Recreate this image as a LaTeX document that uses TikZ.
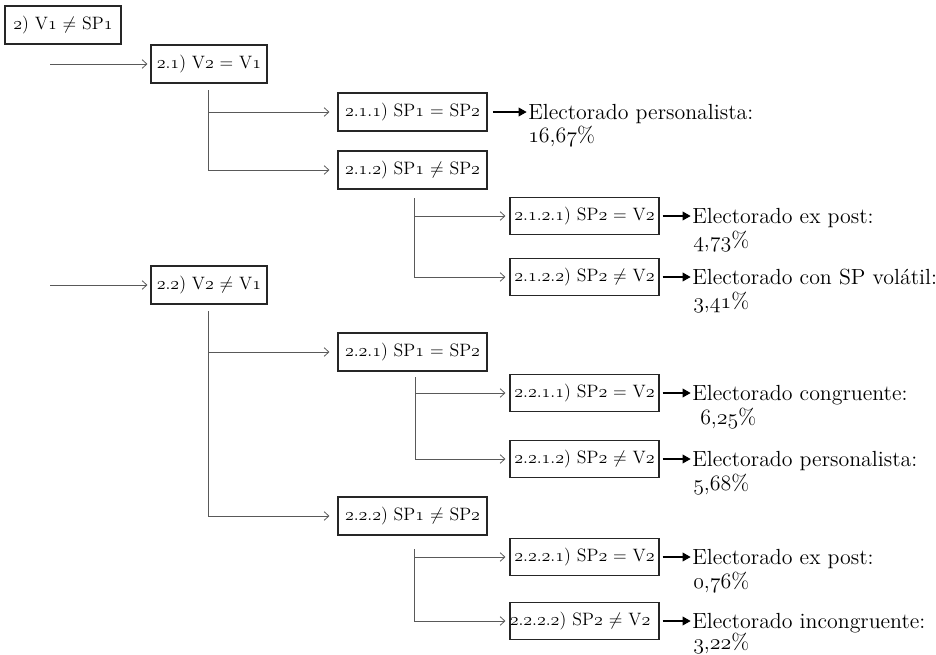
\documentclass[tikz,border=0pt]{standalone}
\usepackage{graphicx}
\usetikzlibrary{arrows.meta}
\newcommand{\osn}[1]{\ensuremath{\mathnormal{#1}}}
\newcommand{\oT}[1]{\scalebox{1.14}{#1}}
\newcommand{\bT}[1]{\scalebox{1.12}{#1}}
\begin{document}
\begin{tikzpicture}[x=0.75pt,y=-0.75pt,
  box/.style={draw=black!85, line width=0.9pt, minimum height=28.5pt, inner sep=0pt,
    font=\fontsize{12}{14}\selectfont},
  box2/.style={box, minimum width=87pt},
  box3/.style={box, minimum width=111.75pt},
  box4/.style={box, minimum width=111.75pt, minimum height=27.75pt},
  link/.style={draw=black!65, line width=0.6pt},
  conn/.style={link, -{Straight Barb[length=3.5pt,width=6.5pt]}},
  res/.style={line width=1pt, -{Triangle[length=6pt,width=6.5pt]}, shorten >=1pt},
  outtext/.style={anchor=base west, inner sep=0pt, font=\fontsize{14.4}{17}\selectfont}]
\useasboundingbox (0,0) rectangle (936,654);

% level 1 and 2
\node[box2] (A) at (63,25) {\bT{\osn{2}) V\osn{1} $\neq$ SP\osn{1}}};
\coordinate (inB1) at (50,64);
\node[box2] (B1) at (209,64) {\bT{\osn{2.1}) V\osn{2} $=$ V\osn{1}}};
\coordinate (inB2) at (50,285);
\node[box2] (B2) at (209,285) {\bT{\osn{2.2}) V\osn{2} $\neq$ V\osn{1}}};
\draw[conn, shorten >=2.25pt] (inB1) -- (B1.west);
\draw[conn, shorten >=2.25pt] (inB2) -- (B2.west);

% level 3
\node[box3] (C11) at (412.5,112) {\bT{\osn{2.1.1}) SP\osn{1} $=$ SP\osn{2}}};
\node[box3] (C12) at (412.5,170) {\bT{\osn{2.1.2}) SP\osn{1} $\neq$ SP\osn{2}}};
\node[box3] (C21) at (412.5,352) {\bT{\osn{2.2.1}) SP\osn{1} $=$ SP\osn{2}}};
\node[box3] (C22) at (412.5,516) {\bT{\osn{2.2.2}) SP\osn{1} $\neq$ SP\osn{2}}};

\coordinate (t1) at (208,90);
\draw[conn, shorten >=6pt] (t1) |- (C12.west);
\draw[conn, shorten >=6pt] (t1 |- C11.west) -- (C11.west);
\coordinate (t2) at (208,311);
\draw[conn, shorten >=6pt] (t2) |- (C22.west);
\draw[conn, shorten >=6pt] (t2 |- C21.west) -- (C21.west);

% level 4
\node[box4] (D121) at (584.5,216) {\bT{\osn{2.1.2.1}) SP\osn{2} $=$ V\osn{2}}};
\node[box4] (D122) at (584.5,277) {\bT{\osn{2.1.2.2}) SP\osn{2} $\neq$ V\osn{2}}};
\node[box4] (D211) at (584.5,393) {\bT{\osn{2.2.1.1}) SP\osn{2} $=$ V\osn{2}}};
\node[box4] (D212) at (584.5,459) {\bT{\osn{2.2.1.2}) SP\osn{2} $\neq$ V\osn{2}}};
\node[box4] (D221) at (584.5,557) {\bT{\osn{2.2.2.1}) SP\osn{2} $=$ V\osn{2}}};
\node[box4, text width=108pt, align=left, inner xsep=1pt] (D222) at (584.5,621) {\hspace*{-2pt}\bT{\osn{2.2.2.2}) SP\osn{2} $\neq$ V\osn{2}}};

\coordinate (t3) at (414,198);
\draw[conn, shorten >=3pt] (t3) |- (D122.west);
\draw[conn, shorten >=3pt] (t3 |- D121.west) -- (D121.west);
\coordinate (t4) at (415,377);
\draw[conn, shorten >=3pt] (t4) |- (D212.west);
\draw[conn, shorten >=3pt] (t4 |- D211.west) -- (D211.west);
\coordinate (t5) at (414,549);
\draw[conn, shorten >=3pt] (t5) |- (D222.west);
\draw[conn, shorten >=3pt] (t5 |- D221.west) -- (D221.west);

% outcomes
\node[outtext] (o11) at (528,119) {\oT{Electorado personalista:}};
\node[outtext] (p11) at (528,142) {\oT{\osn{16},\osn{67}\%}};
\draw[res, shorten <=4pt] (C11.east) -- (C11.east -| o11.west);

\node[outtext] (o121) at (692,223) {\oT{Electorado ex post:}};
\node[outtext] (p121) at (693,247) {\oT{\osn{4},\osn{73}\%}};
\draw[res, shorten <=2.25pt] (D121.east) -- (D121.east -| o121.west);

\node[outtext] (o122) at (692,284) {\oT{Electorado con SP volátil:}};
\node[outtext] (p122) at (693,308) {\oT{\osn{3},\osn{41}\%}};
\draw[res, shorten <=2.25pt] (D122.east) -- (D122.east -| o122.west);

\node[outtext] (o211) at (692,400) {\oT{Electorado congruente:}};
\node[outtext] (p211) at (700,424) {\oT{\osn{6},\osn{25}\%}};
\draw[res, shorten <=2.25pt] (D211.east) -- (D211.east -| o211.west);

\node[outtext] (o212) at (692,466) {\oT{Electorado personalista:}};
\node[outtext] (p212) at (693,490) {\oT{\osn{5},\osn{68}\%}};
\draw[res, shorten <=2.25pt] (D212.east) -- (D212.east -| o212.west);

\node[outtext] (o221) at (692,564) {\oT{Electorado ex post:}};
\node[outtext] (p221) at (693,588) {\oT{\osn{0},\osn{76}\%}};
\draw[res, shorten <=2.25pt] (D221.east) -- (D221.east -| o221.west);

\node[outtext] (o222) at (692,628) {\oT{Electorado incongruente:}};
\node[outtext] (p222) at (693,649) {\oT{\osn{3},\osn{22}\%}};
\draw[res, shorten <=2.25pt] (D222.east) -- (D222.east -| o222.west);
\end{tikzpicture}
\end{document}
